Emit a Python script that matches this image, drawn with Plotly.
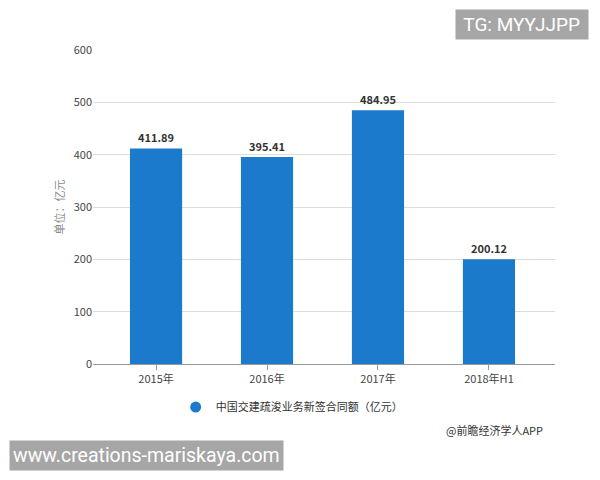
import plotly.graph_objects as go

categories = ["2015年", "2016年", "2017年", "2018年H1"]
values = [411.89, 395.41, 484.95, 200.12]
series_name = "中国交建疏浚业务新签合同额（亿元）"

bar_color = "#1B7ACB"
font = "Noto Sans CJK SC, Roboto, sans-serif"

fig = go.Figure()
fig.add_trace(go.Bar(
    x=categories, y=values, name=series_name, showlegend=False,
    marker=dict(color=bar_color, line=dict(width=0)),
    text=[f"{v:.2f}" for v in values], textposition="outside",
    texttemplate="<b>%{text}</b>",
    textfont=dict(size=11, color="#333333"),
    cliponaxis=False,
))
# legend entry with a round marker, like the original
fig.add_trace(go.Scatter(
    x=[None], y=[None], mode="markers", name=series_name,
    marker=dict(color=bar_color, size=11, symbol="circle"),
))

# page has an 8px body margin, so the figure is sized 592x472
fig.update_layout(
    width=592, height=472,
    margin=dict(l=85, r=45, t=42, b=116),
    paper_bgcolor="white", plot_bgcolor="white",
    font=dict(family=font, size=11, color="#444444"),
    bargap=0.53,
    showlegend=True,
    legend=dict(orientation="h", x=0.43, xanchor="center", y=-0.137, yanchor="middle",
                font=dict(size=11, color="#333333")),
    xaxis=dict(range=[-0.568, 3.595], showline=True, linecolor="#999999", linewidth=1,
               ticks="outside", ticklen=5, tickcolor="#999999", showgrid=False,
               tickfont=dict(size=11, color="#444444")),
    yaxis=dict(range=[0, 600], dtick=100, showgrid=True, gridcolor="#DDDDDD",
               zeroline=False, ticks="", tickfont=dict(size=11, color="#444444"),
               title=dict(text="单位：亿元", font=dict(size=11, color="#8A8A8A"), standoff=6)),
    annotations=[
        dict(text="@前瞻经济学人APP", xref="paper", yref="paper", x=0.978, y=-0.21,
             xanchor="right", yanchor="middle", showarrow=False,
             font=dict(size=11, color="#333333")),
        dict(text=" TG: MYYJJPP ", xref="paper", yref="paper", x=1.073, y=1.08,
             xanchor="right", yanchor="middle", showarrow=False, bgcolor="#A6A6A6",
             borderpad=3, font=dict(size=19, color="white", family="Roboto, sans-serif")),
        dict(text="www.creations-mariskaya.com", xref="paper", yref="paper", x=-0.182, y=-0.29,
             xanchor="left", yanchor="middle", showarrow=False, bgcolor="#A6A6A6",
             borderpad=3, font=dict(size=19.5, color="white", family="Roboto, sans-serif")),
    ],
)

fig.write_html("out.html")
